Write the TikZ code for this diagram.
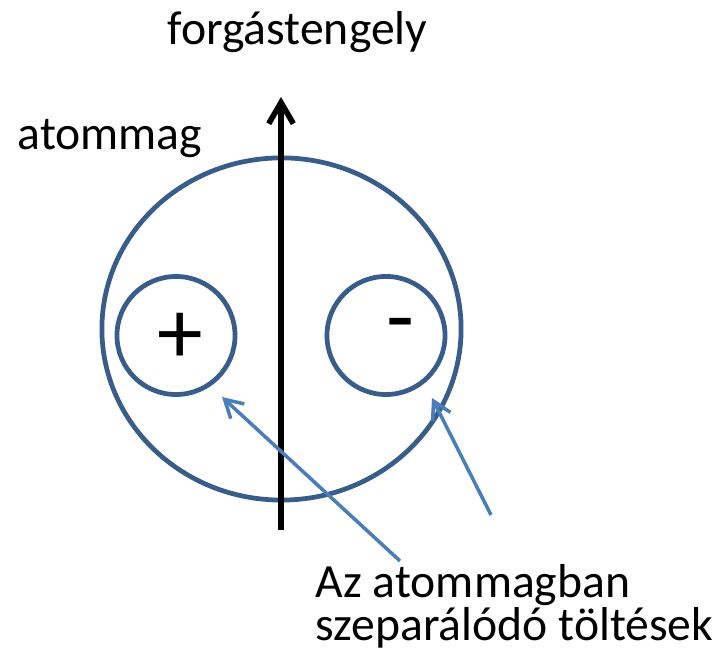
\documentclass[tikz,border=0pt]{standalone}
\usepackage{fontspec}
\setmainfont{Carlito}
\usetikzlibrary{arrows.meta,shapes.geometric}
\definecolor{nucleusblue}{HTML}{385D8A}
\definecolor{pointerblue}{HTML}{4A7EBB}

\begin{document}
\begin{tikzpicture}[x=0.01cm,y=-0.01cm,
  ring/.style={draw=nucleusblue,line width=1.35pt,inner sep=0pt},
  lbl/.style={anchor=base west,inner sep=0pt,font=\fontsize{13.55}{16}\selectfont},
  sign/.style={inner sep=0pt,font=\fontsize{26}{30}\selectfont},
  pointer/.style={pointerblue,line width=1pt,-{Straight Barb[length=5pt,width=5.7pt]}}]
  \useasboundingbox (0,0) rectangle (721,665);
  % nucleus and the two charge regions
  \node[ring,ellipse,minimum width=3.59cm,minimum height=3.42cm] (nucleus) at (281.5,329) {};
  \node[ring,circle,minimum size=1.18cm] (poscharge) at (176,335.5) {};
  \node[ring,circle,minimum size=1.18cm] (negcharge) at (386,335.5) {};
  \node[sign] (plus) at (180,338) {+};
  \node[sign] (minus) at (400,333) {-};
  % rotation axis
  \coordinate (axisfoot) at (281,530);
  \coordinate (axistip) at (281,97);
  \draw[line width=1.6pt,-{Straight Barb[length=6pt,width=7pt]}] (axisfoot) -- (axistip);
  % labels
  \node[lbl] (axislabel) at (167,45) {forgástengely};
  \node[lbl] (nucleuslabel) at (17,150) {atommag};
  \node[lbl] (chargelabel1) at (315,598) {Az atommagban};
  \node[lbl] (chargelabel2) at (315,641) {szeparálódó töltések};
  % pointers from the label to the charges
  \coordinate (tailL) at (400,561);
  \coordinate (tipL) at (222,397);
  \coordinate (tailR) at (491,515);
  \coordinate (tipR) at (432,398);
  \draw[pointer] (tailL) -- (tipL);
  \draw[pointer] (tailR) -- (tipR);
\end{tikzpicture}
\end{document}
